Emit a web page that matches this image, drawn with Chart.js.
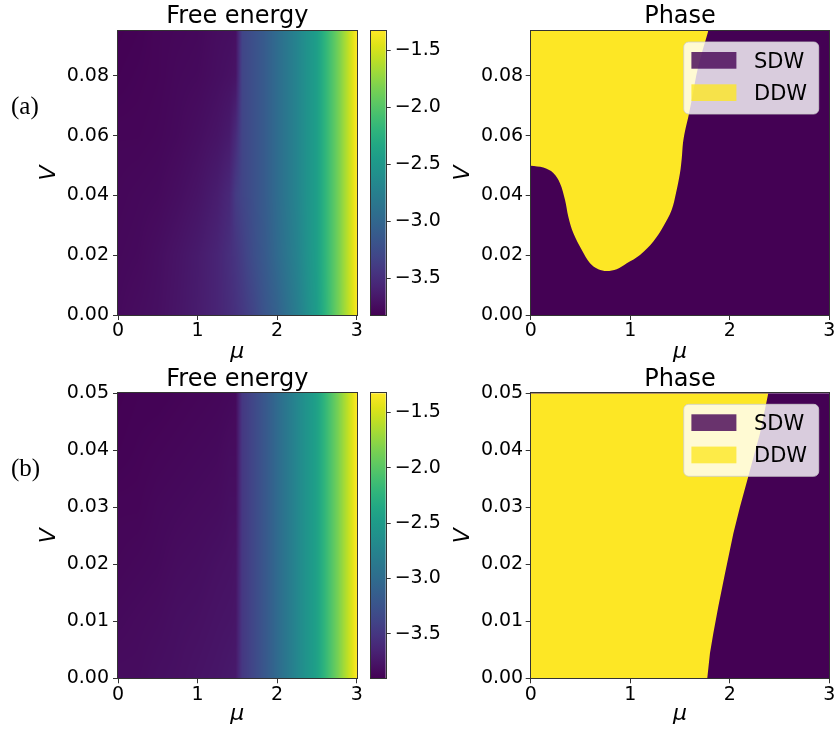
<!DOCTYPE html>
<html>
<head>
<meta charset="utf-8">
<title>Free energy and phase</title>
<script src="https://cdn.jsdelivr.net/npm/chart.js@4/dist/chart.umd.min.js"></script>
<style>
  html, body { margin: 0; padding: 0; background: #fff; overflow: hidden; }
  #page { position: relative; width: 834px; height: 731px; }
  #page canvas { position: absolute; }
  .tag { position: absolute; left: 11px; font-family: 'Liberation Serif', 'Times New Roman', serif; font-size: 25px; line-height: 25px; color: #000; }
</style>
</head>
<body>
<div id="page">
  <canvas id="feA" width="362" height="366" style="left:0;top:0"></canvas>
  <canvas id="cbA" width="100" height="366" style="left:360px;top:0"></canvas>
  <canvas id="phA" width="414" height="366" style="left:420px;top:0"></canvas>
  <canvas id="feB" width="362" height="368" style="left:0;top:360px"></canvas>
  <canvas id="cbB" width="100" height="368" style="left:360px;top:360px"></canvas>
  <canvas id="phB" width="414" height="368" style="left:420px;top:360px"></canvas>
  <div class="tag" style="top:93px">(a)</div>
  <div class="tag" style="top:455px">(b)</div>
</div>
<script>
// ── Data ────────────────────────────────────────────

const MU_TICKS = [0, 1, 2, 3];
const V_TICKS_A = [0, 0.02, 0.04, 0.06, 0.08];
const V_TICKS_B = [0, 0.01, 0.02, 0.03, 0.04, 0.05];
const CBAR_TICKS = [-3.5, -3.0, -2.5, -2.0, -1.5];

// grid nodes of the free energy maps
const MU_GRID = [0, 0.25, 0.5, 0.75, 1.0, 1.25, 1.4, 1.48, 1.56, 1.7, 1.85, 2.0, 2.25, 2.5, 2.75, 3.0];
const V_GRID_A = [0, 0.02, 0.04, 0.06, 0.08, 0.095];
const V_GRID_B = [0, 0.01, 0.02, 0.03, 0.04, 0.05];

// free energy, panel (a), one row per V node
const FE_A_V000 = [-3.76, -3.74, -3.72, -3.68, -3.63, -3.57, -3.51, -3.47, -3.42, -3.32, -3.17, -3.05, -2.77, -2.45, -1.90, -1.35];
const FE_A_V020 = [-3.77, -3.76, -3.73, -3.69, -3.64, -3.57, -3.49, -3.44, -3.37, -3.24, -3.12, -2.97, -2.72, -2.42, -1.90, -1.33];
const FE_A_V040 = [-3.78, -3.77, -3.76, -3.73, -3.69, -3.62, -3.54, -3.39, -3.32, -3.22, -3.10, -2.95, -2.70, -2.42, -1.90, -1.33];
const FE_A_V060 = [-3.79, -3.79, -3.78, -3.76, -3.73, -3.69, -3.64, -3.52, -3.32, -3.22, -3.10, -2.95, -2.70, -2.42, -1.90, -1.33];
const FE_A_V080 = [-3.81, -3.80, -3.79, -3.77, -3.76, -3.73, -3.71, -3.69, -3.32, -3.22, -3.10, -2.95, -2.70, -2.42, -1.90, -1.33];
const FE_A_V095 = [-3.82, -3.81, -3.79, -3.78, -3.77, -3.74, -3.73, -3.72, -3.32, -3.22, -3.10, -2.95, -2.70, -2.42, -1.90, -1.33];

// free energy, panel (b)
const FE_B_V000 = [-3.82, -3.82, -3.80, -3.79, -3.77, -3.75, -3.73, -3.72, -3.49, -3.36, -3.20, -3.02, -2.72, -2.43, -1.89, -1.33];
const FE_B_V010 = [-3.84, -3.83, -3.82, -3.80, -3.79, -3.77, -3.76, -3.75, -3.49, -3.36, -3.20, -3.02, -2.72, -2.43, -1.89, -1.33];
const FE_B_V020 = [-3.86, -3.85, -3.84, -3.82, -3.81, -3.79, -3.78, -3.77, -3.49, -3.36, -3.20, -3.02, -2.72, -2.43, -1.89, -1.33];
const FE_B_V030 = [-3.87, -3.87, -3.85, -3.84, -3.83, -3.82, -3.80, -3.80, -3.49, -3.36, -3.20, -3.02, -2.72, -2.43, -1.89, -1.33];
const FE_B_V040 = [-3.89, -3.88, -3.87, -3.86, -3.85, -3.84, -3.82, -3.82, -3.49, -3.36, -3.20, -3.02, -2.72, -2.43, -1.89, -1.33];
const FE_B_V050 = [-3.90, -3.89, -3.89, -3.88, -3.87, -3.86, -3.85, -3.84, -3.49, -3.36, -3.20, -3.02, -2.72, -2.43, -1.89, -1.33];

// SDW / DDW phase boundary (DDW lies above the line)
const PHASE_A_MU = [0, 0.127, 0.227, 0.294, 0.345, 0.378, 0.428, 0.512, 0.596, 0.679, 0.764, 0.864, 0.965, 1.098, 1.232, 1.332, 1.417, 1.46, 1.50, 1.518, 1.530, 1.550, 1.585, 1.618, 1.684, 1.784];
const PHASE_A_V = [0.0499, 0.0493, 0.0475, 0.0441, 0.0385, 0.0329, 0.0274, 0.0218, 0.0173, 0.0153, 0.0147, 0.0153, 0.0173, 0.0201, 0.0246, 0.0296, 0.0352, 0.0408, 0.0475, 0.0525, 0.0575, 0.0615, 0.0665, 0.0720, 0.0832, 0.095];
const PHASE_B_MU = [0, 1.774, 1.801, 1.835, 1.885, 1.952, 2.036, 2.103, 2.186, 2.304, 2.387];
const PHASE_B_V = [0, 0, 0.0044, 0.0079, 0.0126, 0.0184, 0.0254, 0.0301, 0.0354, 0.043, 0.05];

const LEGEND_LABELS = ['SDW', 'DDW'];

// ── Styles ──────────────────────────────────────────

const VIRIDIS = ['#440154', '#471365', '#482475', '#463480', '#414487', '#3b528b', '#355f8d', '#2f6c8e', '#2a788e', '#25848e', '#21918c',
  '#1e9c89', '#22a884', '#2fb47c', '#44bf70', '#5ec962', '#7ad151', '#9bd93c', '#bddf26', '#dfe318', '#fde725'];
const SDW_COLOR = '#440154';
const DDW_COLOR = '#fde725';
const LEGEND_COLORS = ['rgba(68, 1, 84, 0.8)', 'rgba(253, 231, 37, 0.8)'];

const TICK_FONT = { family: 'DejaVu Sans', size: 19 };
const LABEL_FONT = { family: 'DejaVu Sans', size: 22, style: 'italic' };
const TITLE_FONT = { family: 'DejaVu Sans', size: 24, weight: 'normal', lineHeight: 1.1 };

Chart.defaults.color = '#000';
Chart.defaults.font.family = 'DejaVu Sans';

const VIRIDIS_RGB = VIRIDIS.map(h => [1, 3, 5].map(k => parseInt(h.slice(k, k + 2), 16)));

function viridis(t) {
  t = Math.min(1, Math.max(0, t));
  const p = t * (VIRIDIS_RGB.length - 1);
  const i = Math.min(VIRIDIS_RGB.length - 2, Math.floor(p));
  const f = p - i;
  const a = VIRIDIS_RGB[i], b = VIRIDIS_RGB[i + 1];
  return a.map((c, k) => Math.round(c + (b[k] - c) * f));
}

function lerpIndex(grid, val) {
  const n = grid.length - 1;
  if (val <= grid[0]) return [0, 0];
  if (val >= grid[n]) return [n - 1, 1];
  let i = 0;
  while (grid[i + 1] < val) i++;
  return [i, (val - grid[i]) / (grid[i + 1] - grid[i])];
}

function range(rows) {
  const all = rows.flat();
  return [Math.min(...all), Math.max(...all)];
}

// ── Plugins ─────────────────────────────────────────

function heatmapPlugin(vGrid, rows, lo, hi) {
  return {
    id: 'heatmap',
    beforeDatasetsDraw(chart) {
      const { ctx, chartArea: a, scales: { x, y } } = chart;
      const x0 = Math.round(a.left), y0 = Math.round(a.top);
      const w = Math.round(a.right) - x0, h = Math.round(a.bottom) - y0;
      const img = ctx.createImageData(w, h);
      for (let j = 0; j < h; j++) {
        const [r, fr] = lerpIndex(vGrid, y.getValueForPixel(y0 + j + 0.5));
        for (let i = 0; i < w; i++) {
          const [c, fc] = lerpIndex(MU_GRID, x.getValueForPixel(x0 + i + 0.5));
          const lower = rows[r][c] + (rows[r][c + 1] - rows[r][c]) * fc;
          const upper = rows[r + 1][c] + (rows[r + 1][c + 1] - rows[r + 1][c]) * fc;
          const col = viridis((lower + (upper - lower) * fr - lo) / (hi - lo));
          const k = (j * w + i) * 4;
          img.data[k] = col[0];
          img.data[k + 1] = col[1];
          img.data[k + 2] = col[2];
          img.data[k + 3] = 255;
        }
      }
      ctx.putImageData(img, x0, y0);
    },
  };
}

const colorbarPlugin = {
  id: 'colorbar',
  beforeDatasetsDraw(chart) {
    const { ctx, chartArea: a, scales: { y } } = chart;
    const g = ctx.createLinearGradient(0, y.getPixelForValue(y.min), 0, y.getPixelForValue(y.max));
    VIRIDIS.forEach((c, i) => g.addColorStop(i / (VIRIDIS.length - 1), c));
    ctx.save();
    ctx.fillStyle = g;
    ctx.fillRect(a.left, a.top, a.right - a.left, a.bottom - a.top);
    ctx.restore();
  },
};

const sdwBackground = {
  id: 'sdwBackground',
  beforeDatasetsDraw(chart) {
    const { ctx, chartArea: a } = chart;
    ctx.save();
    ctx.fillStyle = SDW_COLOR;
    ctx.fillRect(a.left, a.top, a.right - a.left, a.bottom - a.top);
    ctx.restore();
  },
};

function roundedRect(ctx, x, y, w, h, r) {
  ctx.beginPath();
  ctx.moveTo(x + r, y);
  ctx.arcTo(x + w, y, x + w, y + h, r);
  ctx.arcTo(x + w, y + h, x, y + h, r);
  ctx.arcTo(x, y + h, x, y, r);
  ctx.arcTo(x, y, x + w, y, r);
  ctx.closePath();
}

const phaseLegend = {
  id: 'phaseLegend',
  afterDatasetsDraw(chart) {
    const { ctx, chartArea: a } = chart;
    const w = 135, h = 72;
    const left = a.right - 10.6 - w, top = a.top + 11;
    ctx.save();
    roundedRect(ctx, left, top, w, h, 5);
    ctx.fillStyle = 'rgba(255, 255, 255, 0.8)';
    ctx.fill();
    ctx.strokeStyle = 'rgba(204, 204, 204, 0.8)';
    ctx.lineWidth = 1;
    ctx.stroke();
    ctx.font = '21px "DejaVu Sans"';
    ctx.textBaseline = 'alphabetic';
    LEGEND_LABELS.forEach((label, i) => {
      ctx.fillStyle = LEGEND_COLORS[i];
      ctx.fillRect(left + 7.7, top + 10 + i * 32.3, 45, 16.7);
      ctx.fillStyle = '#000';
      ctx.fillText(label, left + 70.3, top + 26 + i * 31.6);
    });
    ctx.restore();
  },
};

const framePlugin = {
  id: 'frame',
  afterDraw(chart) {
    const { ctx, chartArea: a } = chart;
    const L = Math.round(a.left), T = Math.round(a.top), R = Math.round(a.right), B = Math.round(a.bottom);
    ctx.save();
    ctx.strokeStyle = '#333';
    ctx.lineWidth = 1;
    ctx.strokeRect(L - 0.5, T - 0.5, R - L + 1, B - T + 1);
    ctx.restore();
  },
};

// ── Axes ────────────────────────────────────────────

const TICK_GRID = { drawOnChartArea: false, drawTicks: true, tickLength: 5, color: '#333' };

function muAxis(height, titlePad) {
  return {
    type: 'linear', min: 0, max: 3,
    afterBuildTicks: s => { s.ticks = MU_TICKS.map(v => ({ value: v })); },
    afterFit: s => { s.height = height; s.paddingLeft = 0; s.paddingRight = 0; },
    ticks: { font: TICK_FONT, color: '#000', padding: 0, maxRotation: 0, autoSkip: false, callback: v => String(v) },
    grid: TICK_GRID,
    border: { display: false },
    title: { display: true, text: 'μ', font: LABEL_FONT, color: '#000', padding: { top: 0, bottom: titlePad } },
  };
}

function vAxis(max, ticks, width, tickPad, titlePad) {
  return {
    type: 'linear', min: 0, max,
    afterBuildTicks: s => { s.ticks = ticks.map(v => ({ value: v })); },
    afterFit: s => { s.width = width; s.paddingTop = 0; s.paddingBottom = 0; },
    ticks: { font: TICK_FONT, color: '#000', padding: tickPad, autoSkip: false, callback: v => v.toFixed(2) },
    grid: TICK_GRID,
    border: { display: false },
    title: { display: true, text: 'V', font: LABEL_FONT, color: '#000', padding: { top: titlePad, bottom: 0 } },
  };
}

function titleOpts(text, padTop, padBottom) {
  return { display: true, text, fullSize: false, font: TITLE_FONT, color: '#000', padding: { top: padTop, bottom: padBottom } };
}

const BASE = { responsive: false, animation: false, devicePixelRatio: 1, events: [] };

// ── Charts ──────────────────────────────────────────

function renderFreeEnergy(id, vGrid, rows, vTicks, xHeight, xTitlePad, titlePad) {
  const [lo, hi] = range(rows);
  new Chart(document.getElementById(id), {
    type: 'scatter',
    data: { datasets: [] },
    options: {
      ...BASE,
      layout: { padding: { left: 0, right: 5.3, top: 0, bottom: 0 } },
      plugins: { legend: { display: false }, tooltip: { enabled: false }, title: titleOpts('Free energy', titlePad[0], titlePad[1]) },
      scales: {
        x: muAxis(xHeight, xTitlePad),
        y: vAxis(vGrid[vGrid.length - 1], vTicks, 118, 4, 35.9),
      },
    },
    plugins: [heatmapPlugin(vGrid, rows, lo, hi), framePlugin],
  });
  return [lo, hi];
}

function renderColorbar(id, lo, hi, padTop, padBottom) {
  new Chart(document.getElementById(id), {
    type: 'scatter',
    data: { datasets: [] },
    options: {
      ...BASE,
      layout: { padding: { left: 11, right: 0, top: padTop, bottom: padBottom } },
      plugins: { legend: { display: false }, tooltip: { enabled: false } },
      scales: {
        x: { display: false, min: 0, max: 1 },
        y: {
          type: 'linear', position: 'right', min: lo, max: hi,
          afterBuildTicks: s => { s.ticks = CBAR_TICKS.map(v => ({ value: v })); },
          afterFit: s => { s.width = 74.3; s.paddingTop = 0; s.paddingBottom = 0; },
          ticks: { font: TICK_FONT, color: '#000', padding: 4, autoSkip: false, callback: v => v.toFixed(1).replace('-', '\u2212') },
          grid: TICK_GRID,
          border: { display: false },
        },
      },
    },
    plugins: [colorbarPlugin, framePlugin],
  });
}

function renderPhase(id, mu, v, vMax, vTicks, xHeight, xTitlePad, titlePad, tension) {
  new Chart(document.getElementById(id), {
    type: 'scatter',
    data: {
      datasets: [{
        label: 'DDW',
        data: mu.map((m, i) => ({ x: m, y: v[i] })),
        showLine: true,
        fill: 'end',
        backgroundColor: DDW_COLOR,
        borderColor: 'rgba(0,0,0,0)',
        borderWidth: 0,
        pointRadius: 0,
        tension,
      }],
    },
    options: {
      ...BASE,
      layout: { padding: { left: 0, right: 4.7, top: 0, bottom: 0 } },
      plugins: { legend: { display: false }, tooltip: { enabled: false }, title: titleOpts('Phase', titlePad[0], titlePad[1]) },
      scales: {
        x: muAxis(xHeight, xTitlePad),
        y: vAxis(vMax, vTicks, 110.7, 2.5, 29.9),
      },
    },
    plugins: [sdwBackground, phaseLegend, framePlugin],
  });
}

const ROWS_A = [FE_A_V000, FE_A_V020, FE_A_V040, FE_A_V060, FE_A_V080, FE_A_V095];
const ROWS_B = [FE_B_V000, FE_B_V010, FE_B_V020, FE_B_V030, FE_B_V040, FE_B_V050];

const [loA, hiA] = renderFreeEnergy('feA', V_GRID_A, ROWS_A, V_TICKS_A, 51, 0.4, [3.9, 0.7]);
renderColorbar('cbA', loA, hiA, 31, 51);
renderPhase('phA', PHASE_A_MU, PHASE_A_V, 0.095, V_TICKS_A, 51, 0.4, [3.9, 0.7], 0.35);

const [loB, hiB] = renderFreeEnergy('feB', V_GRID_B, ROWS_B, V_TICKS_B, 49.7, 0.4, [6.6, 0.3]);
renderColorbar('cbB', loB, hiB, 33.3, 49.7);
renderPhase('phB', PHASE_B_MU, PHASE_B_V, 0.05, V_TICKS_B, 49.7, 0.4, [6.6, 0.3], 0);
</script>
</body>
</html>
